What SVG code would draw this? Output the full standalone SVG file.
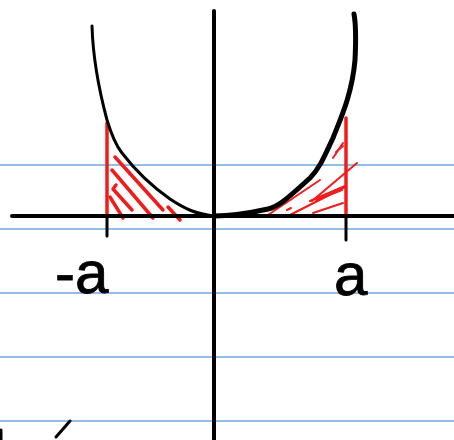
<svg xmlns="http://www.w3.org/2000/svg" width="454" height="440" viewBox="0 0 454 440">
<style>
.rule{stroke:#6ea6e3;stroke-width:1.3;fill:none}
.ink{stroke:#000;fill:none;stroke-linecap:round;stroke-linejoin:round}
.red{stroke:#f01c1c;fill:none;stroke-linecap:round;stroke-linejoin:round}
.lbl{font-family:"Liberation Sans",Arial,sans-serif;font-size:60px;fill:#000;stroke:#000;stroke-width:0.8}
</style>
<rect width="454" height="440" fill="#fff"/>
<g id="paper-lines">
<line class="rule" x1="0" y1="165" x2="454" y2="165"/>
<line class="rule" x1="0" y1="229" x2="454" y2="229"/>
<line class="rule" x1="0" y1="293" x2="454" y2="293"/>
<line class="rule" x1="0" y1="357" x2="454" y2="357"/>
<line class="rule" x1="0" y1="421" x2="454" y2="421"/>
</g>
<g id="hatch-left" class="red" stroke-width="3.5">
<line x1="107" y1="123" x2="107" y2="216"/>
<line x1="115" y1="157" x2="163" y2="210"/>
<line x1="112" y1="170" x2="153" y2="218"/>
<path d="M116 185 L113 189 L132 210"/>
<line x1="110" y1="197" x2="123" y2="218"/>
<line x1="168" y1="207" x2="180" y2="220"/>
</g>
<g id="hatch-right" class="red">
<line x1="346" y1="118" x2="346" y2="216" stroke-width="3.5"/>
<g stroke-width="2">
<line x1="265" y1="217" x2="320" y2="180"/>
<line x1="290" y1="215" x2="345" y2="187"/>
<line x1="313" y1="213" x2="343" y2="203"/>
<path d="M312 201 L357 163"/>
<path d="M310 201 L345 186"/>
<line x1="333" y1="158" x2="343" y2="143"/>
<line x1="336" y1="152" x2="343" y2="146"/>
<line x1="287" y1="210" x2="291" y2="208"/>
<line x1="316" y1="200" x2="342" y2="190"/>
</g>
</g>
<g id="axes" class="ink">
<line x1="12" y1="216" x2="454" y2="216" stroke-width="4"/>
<line x1="214" y1="11" x2="214" y2="440" stroke-width="4"/>
<line x1="107" y1="216" x2="107" y2="236" stroke-width="3"/>
<line x1="346" y1="216" x2="346" y2="240" stroke-width="3"/>
</g>
<g id="curve" class="ink">
<path d="M92 26 C93 60 99 90 107 120 C113 140 118 148 122 153 C135 170 150 185 170 199 C185 209 196 214 214 216" stroke-width="3"/>
<path d="M214 216 C230 216 250 213 268 209 C280 206 290 196 310 178 C320 168 325 155 333 138 C340 120 352 95 355 60 C356 40 356 25 354 14" stroke-width="5"/>
</g>
<g id="labels">
<text class="lbl" x="55" y="293">-a</text>
<text class="lbl" x="334" y="295">a</text>
</g>
<g id="marks" class="ink" stroke-width="3">
<line x1="56" y1="437" x2="70" y2="421"/>
<line x1="1" y1="430" x2="1" y2="440"/>
</g>
</svg>
